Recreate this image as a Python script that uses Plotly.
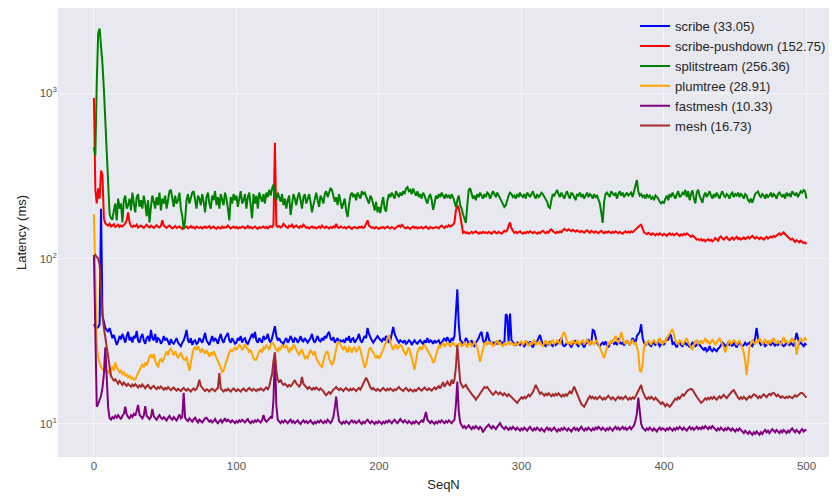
import plotly.graph_objects as go

# Per-message latency (ms) for each multicast scheme, SeqN 0..500
scribe = [
    40, 38.5, 38, 38.5, 40, 200, 45, 40.5, 38, 37, 36, 38, 35, 33, 34.5, 32, 30, 31.5, 34, 32.5, 35, 33, 31, 34, 36,
    32, 33.5, 31, 34, 33, 36.5, 32, 31, 33.5, 35, 32, 30.5, 33, 34, 31.5, 37, 33, 32, 35, 31, 33, 32.5, 30.5, 31.5, 34,
    32, 33, 31, 30, 32.5, 31, 30.5, 32, 33, 31, 30, 29.5, 31, 32, 34, 37, 32, 31, 33, 30, 31.5, 32, 30.5, 31, 33,
    32, 31, 33, 35.5, 32, 31, 30, 32, 34, 31.5, 33, 32, 30.5, 33, 35, 32, 31, 33, 34, 35.5, 32, 31, 33, 32, 30.5,
    31, 33, 32, 34, 31, 32.5, 33, 31, 30.5, 32, 33.5, 35, 33, 36, 32, 31, 33, 32, 31, 34, 32.5, 33, 35, 32, 31,
    33, 36, 39, 34, 32, 33, 31.5, 31, 30.5, 32, 33, 31, 32, 34, 32, 31, 33, 32.5, 31, 32, 34, 32, 31.5, 33, 32,
    31, 32, 33, 35, 32, 31, 33, 34, 32, 31.5, 33, 32, 34, 33, 35, 36, 33, 32, 33.5, 31, 32, 33, 31, 32, 31.5,
    32, 31, 33, 32, 34, 31, 32.5, 33, 31, 32, 33, 35, 32, 31, 33, 34, 33, 38, 35, 33, 32, 31, 32, 33, 34,
    33, 32, 31.5, 33, 32, 34, 33, 31, 32, 35, 38.5, 35, 33, 32, 31, 32, 31.5, 31, 32, 30.5, 31, 32, 31.5, 30, 31,
    32, 31, 30.5, 31.5, 32, 31, 30.5, 32, 31, 33, 31, 32, 31.5, 30.5, 32, 31, 31.5, 32, 30.5, 31, 32, 33, 31.5, 33.5, 32,
    31, 33, 32, 34, 45, 65, 40, 32, 31.5, 30, 31, 33, 32, 30.5, 31, 32, 30, 29.5, 31, 32, 33, 35, 36, 32, 31,
    32, 36, 33, 31, 30.5, 31, 30, 31.5, 30.5, 31, 32, 30, 31, 30.5, 46, 45, 31, 46.5, 32, 31, 30.5, 30, 31, 30.5, 30,
    31, 30, 29.5, 30.5, 31, 30, 31.5, 30, 29, 30.5, 31, 31.5, 33, 34.5, 32, 30.5, 30, 29.5, 31, 30, 31.5, 30, 29.5, 31, 30,
    30.5, 31, 32, 33, 30, 29.5, 30, 31, 30.5, 30, 29, 30.5, 31, 32, 30, 29.5, 30.5, 31, 30, 29, 30.5, 31, 32.5, 30, 31,
    37, 36.5, 33, 31, 30, 29.5, 30.5, 31, 30, 31.5, 30, 29, 30.5, 31, 32, 30.5, 31, 30, 33, 31, 30.5, 31, 30, 30.5, 32,
    31, 30, 31.5, 33, 32, 31, 34, 35, 36, 40, 33, 31, 30, 30.5, 31, 30, 29.5, 30.5, 31, 30, 30.5, 31, 29.5, 30.5, 31,
    30, 31.5, 33, 32, 35, 34, 30.5, 31, 30, 29, 30.5, 31, 30, 29.5, 30.5, 31, 30, 30.5, 29, 30, 31, 30.5, 29.5, 30, 31,
    30, 29, 28.5, 28, 29, 27.5, 28, 29.5, 28, 27.5, 28.5, 28, 27.5, 28.5, 29, 30, 31, 30.5, 29.5, 30, 31, 30, 30.5, 29.5, 31,
    30, 29, 30.5, 31, 30, 29.5, 30, 31, 30, 30.5, 31, 30, 29.5, 31, 33, 38, 33, 31, 30, 30.5, 31, 29.5, 30, 31, 30.5,
    30, 31, 30.5, 29.5, 31, 30, 30.5, 31.5, 30, 29.5, 30, 31, 30.5, 30, 31, 30, 29.5, 32, 35.5, 33, 30.5, 31, 30, 29.5, 30.5,
    30,
]

scribe_pushdown = [
    935, 260, 215, 265, 230, 340, 320, 175, 163, 160, 158, 162, 156, 158, 161, 155, 157, 160, 155, 158, 156, 159, 163, 170, 190,
    165, 157, 155, 158, 156, 160, 154, 156, 158, 155, 153, 157, 160, 156, 154, 158, 155, 153, 156, 159, 155, 154, 157, 170, 158,
    155, 153, 156, 158, 155, 152, 154, 157, 153, 155, 156, 153, 151, 155, 154, 156, 152, 154, 157, 153, 155, 152, 156, 154, 153,
    155, 152, 154, 156, 153, 155, 157, 152, 154, 156, 153, 151, 155, 154, 152, 156, 153, 155, 154, 158, 155, 152, 154, 156, 153,
    155, 152, 154, 153, 156, 155, 152, 154, 157, 153, 155, 152, 154, 156, 153, 151, 155, 153, 154, 156, 153, 155, 152, 154, 157,
    155, 160, 500, 158, 155, 157, 154, 156, 162, 157, 155, 153, 158, 156, 160, 154, 156, 158, 155, 153, 157, 155, 160, 156, 153,
    155, 152, 154, 156, 153, 155, 152, 154, 156, 153, 158, 155, 153, 156, 154, 152, 155, 153, 156, 154, 162, 155, 153, 156, 154,
    153, 155, 152, 154, 156, 153, 151, 154, 155, 153, 152, 155, 154, 156, 153, 155, 162, 170, 158, 155, 153, 154, 152, 155, 153,
    151, 154, 153, 155, 152, 154, 156, 153, 152, 155, 153, 151, 154, 156, 158, 155, 160, 157, 153, 152, 155, 153, 151, 154, 156,
    153, 155, 152, 154, 153, 155, 152, 154, 156, 153, 151, 155, 154, 152, 153, 155, 154, 152, 156, 158, 155, 153, 157, 155, 159,
    156, 158, 160, 165, 195, 210, 200, 183, 160, 143, 145, 142, 144, 141, 143, 145, 142, 144, 146, 143, 141, 144, 142, 145, 143,
    144, 142, 145, 143, 141, 144, 146, 143, 142, 145, 143, 141, 144, 147, 145, 148, 158, 165, 152, 146, 143, 145, 142, 144, 146,
    143, 141, 144, 142, 145, 143, 146, 144, 142, 145, 143, 141, 144, 142, 145, 147, 144, 142, 145, 143, 148, 150, 146, 144, 142,
    145, 143, 146, 144, 148, 151, 149, 147, 150, 148, 146, 149, 147, 145, 148, 146, 144, 147, 145, 143, 146, 148, 145, 143, 147,
    145, 143, 146, 144, 142, 145, 147, 144, 142, 145, 143, 146, 144, 142, 145, 143, 146, 144, 142, 145, 143, 141, 144, 146, 143,
    145, 143, 146, 144, 147, 150, 152, 155, 158, 160, 150, 144, 142, 140, 143, 141, 139, 142, 140, 138, 141, 139, 142, 140, 138,
    141, 139, 137, 140, 142, 139, 141, 138, 140, 142, 139, 137, 140, 138, 141, 139, 142, 140, 137, 135, 138, 136, 133, 130, 131,
    129, 131, 128, 130, 127, 129, 131, 128, 130, 127, 129, 133, 131, 128, 134, 136, 132, 130, 133, 135, 131, 129, 132, 134, 130,
    132, 135, 131, 133, 130, 132, 134, 131, 133, 135, 132, 134, 137, 134, 132, 135, 133, 131, 134, 132, 130, 133, 135, 132, 134,
    136, 134, 137, 135, 138, 140, 142, 139, 141, 144, 140, 137, 135, 133, 130, 132, 128, 126, 129, 127, 125, 128, 126, 124, 125,
    122,
]

splitstream = [
    470, 420, 1150, 2300, 2450, 2000, 1500, 1050, 650, 380, 240, 185, 175, 172, 195, 215, 170, 230, 200, 215, 165, 225, 240, 200, 210,
    230, 195, 250, 215, 190, 235, 245, 205, 225, 200, 240, 215, 180, 225, 165, 205, 240, 220, 200, 235, 210, 250, 195, 230, 215,
    240, 200, 225, 255, 260, 230, 205, 240, 215, 225, 250, 200, 180, 150, 170, 225, 245, 215, 230, 250, 255, 220, 200, 240, 230,
    210, 245, 220, 190, 235, 250, 215, 200, 240, 225, 255, 210, 235, 200, 245, 225, 210, 250, 230, 200, 170, 235, 215, 245, 225,
    240, 205, 230, 255, 215, 225, 245, 200, 235, 250, 210, 175, 245, 215, 240, 200, 250, 235, 220, 245, 215, 250, 235, 260, 240,
    265, 280, 240, 225, 250, 235, 220, 245, 210, 230, 200, 225, 240, 183, 215, 245, 230, 210, 235, 250, 225, 200, 235, 245, 215,
    230, 245, 220, 190, 210, 235, 250, 225, 205, 240, 230, 215, 245, 255, 235, 250, 265, 260, 240, 220, 235, 210, 245, 225, 200,
    215, 230, 195, 178, 210, 240, 250, 235, 245, 225, 250, 240, 230, 255, 245, 250, 235, 225, 215, 240, 230, 210, 195, 220, 190,
    205, 188, 215, 235, 200, 192, 225, 245, 235, 250, 240, 230, 255, 245, 235, 250, 240, 255, 245, 265, 270, 255, 260, 245, 265,
    250, 240, 255, 235, 245, 230, 250, 240, 225, 215, 235, 245, 225, 197, 215, 240, 230, 245, 235, 250, 240, 230, 245, 235, 240,
    230, 245, 235, 220, 205, 225, 240, 210, 200, 185, 175, 164, 210, 260, 266, 245, 230, 240, 225, 245, 235, 250, 240, 230, 245,
    235, 250, 245, 230, 240, 255, 245, 235, 250, 240, 230, 225, 215, 205, 210, 230, 240, 250, 245, 235, 240, 230, 245, 235, 250,
    240, 235, 245, 230, 250, 240, 235, 245, 255, 240, 230, 245, 235, 240, 250, 245, 235, 230, 220, 205, 202, 225, 245, 240, 250,
    260, 245, 235, 250, 240, 230, 245, 255, 240, 230, 250, 245, 235, 225, 245, 240, 250, 235, 245, 230, 240, 250, 235, 245, 240,
    230, 245, 235, 240, 225, 215, 190, 164, 220, 245, 250, 240, 235, 255, 245, 240, 250, 230, 245, 255, 240, 250, 235, 245, 250,
    240, 245, 250, 235, 255, 265, 298, 255, 240, 245, 235, 240, 230, 245, 235, 240, 230, 235, 225, 240, 235, 230, 220, 215, 220,
    217, 230, 240, 225, 245, 235, 250, 240, 230, 245, 255, 235, 240, 250, 245, 260, 235, 255, 225, 245, 258, 230, 215, 250, 260,
    240, 225, 217, 240, 250, 235, 245, 255, 240, 230, 245, 235, 250, 240, 230, 245, 255, 240, 235, 245, 240, 230, 245, 250, 235,
    245, 240, 250, 235, 245, 240, 230, 245, 240, 225, 220, 230, 217, 235, 245, 250, 254, 240, 235, 245, 240, 230, 245, 235, 240,
    250, 235, 245, 240, 230, 245, 250, 240, 235, 245, 230, 250, 240, 245, 235, 255, 245, 240, 250, 235, 245, 255, 250, 259, 255,
    230,
]

plumtree = [
    185, 60, 30, 25, 23, 22, 21.5, 21, 22, 20.5, 21, 20, 21.5, 22, 21, 23.5, 22, 21, 20.5, 21, 20, 20.5, 19.5, 20, 19,
    19.5, 18.8, 19, 18.5, 18.6, 19.5, 20.5, 21, 22, 23, 22, 23.5, 22.5, 24, 25.5, 26, 25, 26.5, 24, 23, 22, 24, 25, 23.5, 25,
    26, 27.5, 26, 28, 28.5, 27, 26, 27.5, 26.5, 25, 26, 27, 25.5, 24.5, 24.4, 25.5, 23, 21, 23.5, 26, 28.5, 29, 28, 29.5, 28,
    27, 28.5, 27.5, 26.5, 28, 27, 25.5, 27, 26, 27.5, 26, 25, 24, 23, 22, 20.6, 21, 22.5, 24.4, 25.5, 27, 28, 27.5, 28.5, 29,
    28, 29, 30, 29.5, 28, 29, 30.5, 29, 28.5, 27, 28, 26.5, 25, 24.4, 24.5, 26, 27.5, 28, 27, 29, 28.5, 30, 29, 28, 30,
    31, 30.5, 29, 28, 27.5, 29, 28, 30, 29.5, 29, 30, 28.5, 27, 29, 28, 30, 29.5, 28, 27, 26, 27.5, 28, 26.5, 25, 25.5,
    25, 26.5, 28, 27, 26, 27.5, 25, 24, 23, 22.5, 22.1, 24, 26, 27, 27.3, 25, 24, 22.7, 23.5, 26, 29, 31, 31.3, 30, 29,
    28, 29.5, 28, 27, 29, 28.5, 27, 28.5, 29, 27.5, 28, 29.5, 28, 26, 24, 21.8, 23, 26, 28, 29, 28, 27.5, 26, 25, 26,
    25, 25.5, 27, 28, 30, 31, 33, 34.5, 31, 29, 28, 29.5, 30, 28.5, 29, 30, 29.5, 28, 27, 26, 28, 29, 27, 25, 22.5,
    21.2, 24, 27, 28.5, 29, 28, 29.5, 30, 29, 28.5, 27, 26, 25, 23.4, 24, 26, 28, 29.5, 29, 30, 31, 29.5, 30, 31, 30,
    29.5, 30.5, 31, 30, 29.5, 30, 30.5, 31, 29.5, 30, 31, 30, 29, 30.5, 31, 29.5, 30, 31.5, 30, 29, 26, 23.7, 26, 29, 30.5,
    31, 30, 31.5, 30.5, 31, 29.5, 30, 31, 32, 30.5, 31, 30, 29.5, 31, 30, 30.5, 31.5, 30, 31, 30.5, 29.5, 31, 30, 30.5, 31,
    31.5, 30, 31, 32, 30.5, 29.5, 31, 30, 31.5, 32, 30, 31, 30.5, 31.5, 30, 29.5, 31, 32, 30.5, 31, 30, 31.5, 32, 30.5, 31,
    32, 31, 30.5, 33, 34.5, 36, 34, 31, 30.5, 31.5, 30, 32, 31, 30.5, 32, 31, 30, 31.5, 32, 30.5, 31, 32.5, 31, 30, 31.5,
    31, 30, 31.5, 32, 30.5, 29, 27.5, 26, 25, 27, 29.5, 31, 30.5, 32, 31, 33, 34, 32, 31, 32.5, 36, 33, 31, 30.5, 32,
    31, 30, 31.5, 32, 30.5, 31, 29, 27, 21, 20.6, 23, 29, 31, 30.5, 32, 31, 30, 31.5, 32, 31, 30.5, 32, 33, 31, 30.5,
    32, 31, 33, 34, 35, 36.5, 37.5, 35, 32, 31, 30.5, 32, 31.5, 30, 31, 32, 33, 31, 30, 29, 28, 30, 31.5, 32, 30.5,
    31, 32, 30.5, 31.5, 33, 31, 32, 30.5, 31, 32.5, 31.5, 30, 31, 32, 33, 31.5, 30.5, 29, 27, 29.5, 31, 32, 30.5, 31, 32,
    31.5, 30, 31, 32, 30.5, 29, 27, 24, 19.8, 24, 29, 31, 32, 31, 30.5, 32, 31, 33, 32, 30.5, 31, 32.5, 31, 30, 32,
    31, 32, 33, 31.5, 30.5, 32, 31, 30, 32, 33.5, 31, 32, 30.5, 31, 32, 33, 31.5, 32, 26.2, 30, 32, 33, 31.5, 32, 33,
    32,
]

fastmesh = [
    105, 25, 12.7, 13.2, 13.9, 14.8, 16.5, 20, 29, 18, 12.5, 10.8, 10.6, 11, 10.8, 11.2, 10.9, 11.3, 11, 10.7, 11.2, 11.5, 12.7, 11.4, 11,
    10.8, 11.3, 11, 11.5, 11.2, 12, 13, 11.4, 11, 10.8, 11.2, 12.8, 11.2, 10.9, 10.7, 11, 12.3, 11.1, 10.8, 10.6, 11, 11.3, 10.9, 10.7, 11,
    10.8, 10.5, 10.9, 11.2, 10.8, 10.6, 11, 10.7, 10.5, 10.9, 11.4, 10.8, 11, 15.4, 10.9, 10.6, 10.4, 10.8, 10.5, 10.3, 10.7, 10.9, 10.5, 10.2, 10.6,
    10.4, 10.2, 10.5, 10.8, 10.9, 10.6, 10.3, 10.5, 10.2, 10.4, 10.7, 10.3, 10.1, 10.4, 10.6, 10.2, 10.5, 10.8, 10.3, 10.6, 10.4, 10.2, 10.5, 10.3, 10.1,
    10.4, 10.2, 10.5, 10.3, 10.6, 10.4, 10.2, 10.5, 10.7, 10.3, 10.1, 10.4, 10.2, 10.5, 10.3, 10.6, 10.4, 10.2, 10.5, 11.3, 10.6, 10.3, 10.5, 10.7, 11,
    10.8, 14, 27, 13, 10.6, 10.3, 10.1, 10.4, 10.2, 10.5, 10.3, 10.1, 10.4, 10.6, 10.2, 10.4, 10.1, 10.3, 10.5, 10.2, 10, 10.3, 10.5, 10.2, 10.4,
    10.1, 10.3, 10.5, 10.2, 10, 10.3, 10.1, 10.4, 10.2, 10.5, 10.3, 10.1, 10.4, 10.2, 10.6, 10.3, 10.1, 10.4, 11, 12.5, 14.6, 12, 10.4, 10.2, 10,
    10.3, 10.1, 10.4, 10.2, 10, 10.3, 10.5, 10.2, 10.4, 10.1, 10.3, 10.5, 10.2, 10, 10.3, 10.1, 10.4, 10.6, 10.3, 10.1, 10.4, 10.2, 10, 10.3, 10.1,
    10.4, 10.2, 10, 10.3, 10.1, 10.4, 10.2, 10.5, 10.3, 10.1, 10.4, 10.6, 10.3, 10.1, 10.4, 10.7, 10.4, 10.2, 10.5, 10.3, 10.1, 10.4, 10.2, 10, 10.3,
    10.1, 10.4, 10.2, 10, 10.3, 10.5, 10.2, 11, 11.8, 10.6, 10.3, 10.1, 10.4, 10.2, 10, 10.3, 10.1, 10.4, 10.2, 10.5, 10.3, 10.1, 10.4, 10.2, 10.5,
    10.3, 10.1, 10.4, 10.6, 13, 18, 12, 10.2, 9.8, 9.5, 9.7, 9.4, 9.6, 9.8, 9.5, 9.3, 9.6, 9.4, 9.7, 9.5, 9.3, 9.6, 9.4, 8.9, 9.3,
    9.5, 9.7, 9.9, 9.6, 9.4, 9.7, 9.5, 9.3, 9.6, 9.8, 10.1, 9.7, 9.5, 9.3, 9.6, 9.4, 9.2, 9.5, 9.3, 9.6, 9.4, 9.2, 9.5, 9.3, 9.1,
    9.4, 9.2, 9.5, 9.3, 9.1, 9.4, 9.6, 9.3, 9.1, 9.4, 9.2, 9.5, 9.3, 9.1, 9.4, 9.2, 9, 9.3, 9.5, 9.2, 9.4, 9.1, 9.3, 9.5, 9.2,
    9, 9.3, 9.1, 9.4, 9.2, 9.5, 9.3, 9.1, 9.4, 9.2, 9, 9.3, 9.5, 9.2, 9.4, 9.1, 9.3, 9.6, 9.3, 9.1, 9.4, 9.2, 9.5, 9.3, 9.1,
    9.4, 9.2, 9.5, 9.3, 9.6, 9.4, 9.2, 9.5, 9.3, 9.1, 9.4, 9.2, 9.5, 9.3, 9.1, 9.4, 9.6, 9.3, 9.5, 9.2, 9.4, 9.6, 9.3, 9.5, 9.2,
    9.4, 9.6, 9.3, 9.5, 9.8, 10.5, 11.5, 14.4, 12, 10, 9.5, 9.3, 9.1, 9.4, 9.2, 9.5, 9.3, 9.1, 9.4, 9.2, 9, 9.3, 9.5, 9.2, 9.4,
    9.3, 9.1, 9.4, 9.2, 9.5, 9.3, 9.1, 9.4, 9.2, 9.5, 9.3, 9.6, 9.4, 9.2, 9.5, 9.3, 9.1, 9.4, 9.6, 9.3, 9.5, 9.2, 9.4, 9.6, 9.3,
    9.5, 9.3, 9.6, 9.4, 9.7, 9.5, 9.3, 9.6, 9.4, 9.7, 9.5, 9.3, 9.1, 9.4, 9.2, 9.5, 9.3, 9.1, 9.4, 9.2, 9.5, 9.3, 9.1, 9.4, 9.2,
    9, 9.3, 9.1, 9.4, 9.2, 9, 8.8, 9.1, 8.9, 8.7, 9, 8.8, 8.6, 8.9, 8.7, 9, 8.8, 8.6, 8.9, 8.7, 9, 9.2, 8.9, 9.1, 8.8,
    9, 9.3, 9.1, 8.9, 9.2, 9, 8.8, 9.1, 8.9, 9.2, 9, 8.8, 9.1, 8.9, 9.2, 9.4, 9.1, 8.9, 9.2, 9, 8.8, 9.1, 9.3, 9, 9.2,
    9.1,
]

mesh = [
    102, 105, 102, 100, 92, 62, 46, 38, 33, 28, 25, 21, 19.5, 18.8, 18.3, 18.6, 18, 17.5, 18.2, 17.6, 17.2, 17.8, 17.4, 17, 17.5,
    17.2, 16.8, 17.3, 16.9, 17.4, 17, 16.6, 17.1, 16.8, 17.3, 16.7, 16.4, 16.9, 17.2, 16.6, 16.3, 16.8, 17, 16.5, 16.2, 16.7, 16.4, 16.8, 16.3, 16.1,
    16.5, 16.2, 16.7, 16.4, 16, 16.3, 16.6, 16.2, 15.9, 16.3, 16.1, 15.8, 16.2, 16.5, 16.1, 15.9, 16.3, 16, 15.7, 16.1, 16.4, 16, 16.3, 17, 18.5,
    17, 16.4, 16.1, 15.8, 16.2, 16, 15.7, 16.1, 16.3, 16, 15.8, 16.2, 16.5, 20.3, 16.4, 16, 15.7, 16.1, 15.9, 16.3, 16, 15.7, 16.1, 16.4, 16,
    15.8, 16.2, 16, 15.7, 16.1, 16.4, 16, 15.8, 16.2, 16.5, 16.1, 15.9, 16.3, 16, 15.8, 16.2, 16, 16.4, 16.1, 15.9, 16.3, 16.6, 16.2, 16.8, 18.5,
    20, 24, 27, 21, 18.5, 17.8, 18.5, 17.6, 17.2, 17.5, 17, 16.8, 17.2, 16.9, 17.3, 17.8, 18.4, 17.6, 17.2, 16.8, 17.3, 19.2, 17.5, 17, 16.6,
    16.3, 16.7, 16.4, 16.1, 16.5, 16.2, 16.6, 16.3, 16, 16.4, 16.1, 15.8, 15.2, 14.9, 15.3, 15.6, 15.2, 15.8, 16.1, 16.4, 16.7, 16.3, 16, 16.4, 16.1,
    15.8, 16.2, 16.5, 16.1, 15.9, 16.3, 16, 16.4, 16.1, 15.8, 16.2, 16.5, 16.1, 16.8, 17.5, 18.2, 19, 18.3, 17.2, 16.6, 16.2, 16.5, 16.1, 15.9, 16.3,
    16, 15.8, 16.2, 16.5, 16.1, 15.9, 16.3, 16, 16.4, 16.1, 15.8, 16.2, 16, 16.4, 16.7, 16.3, 16, 15.8, 16.2, 16.5, 16.1, 15.8, 16.2, 16, 15.7,
    16.1, 15.8, 16.2, 16.5, 16.1, 15.9, 16.3, 16.6, 16.2, 16, 16.4, 16.1, 15.9, 16.3, 16.6, 16.2, 16.5, 16.9, 16.4, 17.2, 17.9, 16.8, 17.3, 18, 17.4,
    17, 18.5, 17.5, 18.5, 22, 30, 22, 18, 17.2, 16.6, 16.9, 17.2, 16.5, 16, 15.6, 15.2, 14.8, 14.5, 14, 14.4, 14.8, 15.3, 15.8, 16.3, 16.7,
    16.5, 16.7, 16.2, 15.8, 15.4, 15, 15.3, 15.7, 15.4, 15.1, 15.5, 15.2, 14.9, 15.3, 15, 14.7, 15.1, 14.8, 14.5, 14.2, 13.9, 13.6, 13.4, 13.8, 14.2,
    14.5, 14.2, 14.6, 14.3, 14.7, 15, 14.7, 15.1, 15.6, 16.3, 17.2, 16.5, 15.6, 15.2, 15.5, 15.1, 14.8, 15.2, 14.9, 15.3, 15, 14.7, 15.1, 14.8, 15.2,
    14.9, 15.3, 15, 14.6, 15, 14.7, 15.1, 14.8, 15.3, 15.7, 15.2, 16.2, 16.8, 16, 15.2, 14.6, 13.8, 13.2, 12.9, 12.7, 13.2, 13.8, 14.3, 14.7, 14.3,
    14.6, 14.2, 14.5, 14.1, 14.4, 14.7, 14.3, 14, 14.4, 14.1, 14.5, 14.8, 14.4, 14.1, 14.5, 14.2, 13.9, 14.3, 14.6, 14.2, 14.5, 14.1, 14.4, 14.7, 14.3,
    14, 14.4, 14.1, 14.5, 14.2, 14.6, 15.2, 15.8, 16.6, 17.2, 15.8, 15, 14.4, 14.1, 14.5, 14.2, 14.6, 14.3, 14, 14.4, 14.1, 13.8, 13.5, 13.2, 13.5,
    13.1, 12.8, 13.2, 12.9, 12.7, 13, 13.4, 13.8, 14.2, 14, 14.5, 14.2, 14.7, 15.1, 14.8, 15.3, 15.7, 16, 16.2, 16.3, 16.1, 15.5, 15, 14.6, 14.2,
    13.8, 13.4, 13.6, 13.9, 14.3, 14, 14.4, 14.1, 14.5, 14.2, 14.6, 14.3, 14, 14.4, 14.7, 14.3, 14.6, 15, 14.6, 14.3, 14.7, 15.1, 15.5, 15.8, 16,
    15.4, 14.8, 14.4, 14.1, 14.5, 14.2, 14.6, 14.3, 14, 14.4, 14.7, 14.4, 14.8, 15.1, 15, 14.6, 14.3, 14.7, 14.4, 14.8, 15.1, 14.8, 14.5, 14.9, 15.2,
    14.9, 15.3, 15.4, 15, 14.7, 15, 14.7, 14.4, 14.7, 14.5, 14.3, 14.6, 14.4, 14.7, 14.5, 14.3, 14.6, 14.9, 14.6, 14.8, 15.1, 15.4, 15.4, 15, 14.6,
    14.4,
]

series_names = ["scribe", "scribe-pushdown", "splitstream", "plumtree", "fastmesh", "mesh"]
series_means = ["33.05", "152.75", "256.36", "28.91", "10.33", "16.73"]
series_values = [scribe, scribe_pushdown, splitstream, plumtree, fastmesh, mesh]
series_colors = ["#0000FF", "#FF0000", "#008000", "#FFA500", "#800080", "#A52A2A"]

for name, vals in zip(series_names, series_values):
    assert len(vals) == 501, (name, len(vals))

x_ticks = [0, 100, 200, 300, 400, 500]
y_ticks = [10, 100, 1000]
y_tick_text = ["10<sup>1</sup>", "10<sup>2</sup>", "10<sup>3</sup>"]

fig = go.Figure()
for name, mean, vals, color in zip(series_names, series_means, series_values, series_colors):
    fig.add_trace(go.Scatter(
        x=list(range(len(vals))),
        y=vals,
        mode="lines",
        name=f"{name} ({mean})",
        line=dict(color=color, width=2),
    ))

FONT = "Liberation Sans, Arial, sans-serif"

fig.update_layout(
    width=832,
    height=496,
    margin=dict(l=58, r=2, t=8, b=39),
    paper_bgcolor="white",
    plot_bgcolor="#E8E8F0",
    font=dict(family=FONT, size=12, color="#262626"),
    showlegend=True,
    legend=dict(
        x=0.7475, y=0.993, xanchor="left", yanchor="top",
        bgcolor="rgba(0,0,0,0)",
        font=dict(family=FONT, size=13, color="#262626"),
        tracegroupgap=0,
        itemwidth=30,
    ),
    xaxis=dict(
        range=[-25.2, 515.8],
        tickvals=x_ticks,
        showgrid=True, gridcolor="rgba(255,255,255,0.55)", gridwidth=1,
        zeroline=False, showline=False, ticks="",
        tickfont=dict(family=FONT, size=11.5, color="#555555"),
        title=dict(text="SeqN", font=dict(family=FONT, size=13, color="#262626"), standoff=9),
    ),
    yaxis=dict(
        type="log",
        range=[0.80, 3.514],
        tickvals=y_ticks,
        ticktext=y_tick_text,
        showgrid=True, gridcolor="rgba(255,255,255,0.55)", gridwidth=1,
        zeroline=False, showline=False, ticks="",
        tickfont=dict(family=FONT, size=11.5, color="#555555"),
        title=dict(text="Latency (ms)", font=dict(family=FONT, size=13, color="#262626"), standoff=10),
    ),
)

fig.write_html("out.html")
